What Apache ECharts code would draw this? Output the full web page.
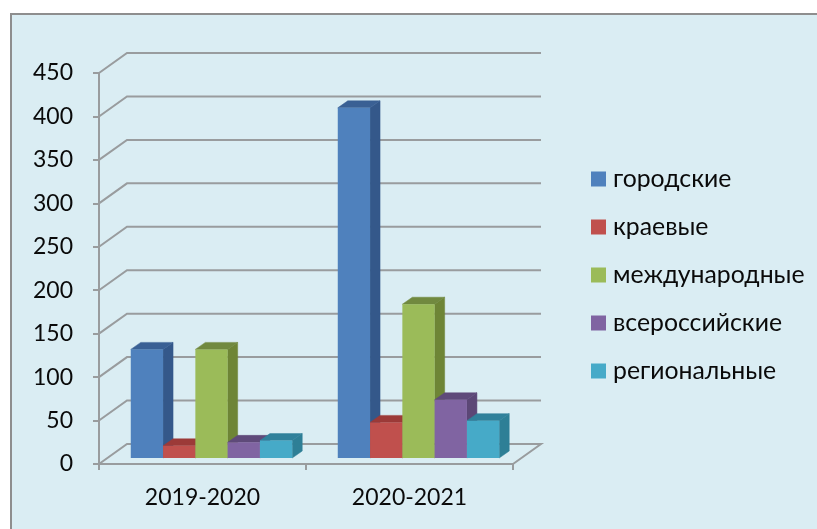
<!DOCTYPE html>
<html><head><meta charset="utf-8">
<script src="https://cdn.jsdelivr.net/npm/echarts@6/dist/echarts.min.js"></script>
<style>html,body{margin:0;padding:0;background:#fff}#c{width:817px;height:529px}</style>
</head><body><div id="c"></div>
<script>
const categories = ['2019-2020', '2020-2021'];
const gridTicks = [0, 50, 100, 150, 200, 250, 300, 350, 400, 450];
const gorodskie = [125, 403];
const kraevye = [14, 41];
const mezhdunarodnye = [125, 177];
const vserossiyskie = [18, 67];
const regionalnye = [20, 43];

const names = ['городские', 'краевые', 'международные', 'всероссийские', 'региональные'];
const values = [gorodskie, kraevye, mezhdunarodnye, vserossiyskie, regionalnye];
const faces = [
  ['#4f81bd', '#34588a', '#3a6094'],
  ['#c0504d', '#8e3b39', '#9c3a38'],
  ['#9bbb59', '#6e8536', '#71893f'],
  ['#8064a2', '#5c4776', '#5f4a7a'],
  ['#46aac8', '#2e7f96', '#30819b']
];
const FONT = 'Lato, "Open Sans", sans-serif';
const WALL = '#999c9e';
const wallDX = 28, wallDY = 20;     // floor depth
const barDX = 10, barDY = 7;        // bar depth
const floorDX = 9, floorDY = 6;     // bar row position on the floor
const barShare = 0.156;             // one bar's width / category band

function poly(points, fill) {
  return { type: 'polygon', shape: { points }, style: { fill, stroke: fill, lineWidth: 0.5 } };
}
function barRenderer(si) {
  return function (params, api) {
    const cat = api.value(0), v = api.value(1);
    const band = api.size([1, 0])[0];
    const w = band * barShare;
    const top = api.coord([cat, v]);
    const base = api.coord([cat, 0]);
    const x0 = top[0] + floorDX + (si - 2.5) * w, x1 = x0 + w;
    const yT = top[1] - floorDY, yB = base[1] - floorDY;
    const f = faces[si];
    return { type: 'group', children: [
      poly([[x1, yT], [x1 + barDX, yT - barDY], [x1 + barDX, yB - barDY], [x1, yB]], f[1]),
      poly([[x0, yT], [x0 + barDX, yT - barDY], [x1 + barDX, yT - barDY], [x1, yT]], f[2]),
      { type: 'rect', shape: { x: x0, y: yT, width: w, height: yB - yT }, style: { fill: f[0] } }
    ] };
  };
}
function wallRenderer(params, api) {
  const cs = params.coordSys;
  const y = api.coord([0, api.value(0)])[1];
  const l = cs.x, r = cs.x + cs.width;
  const pts = [[l, y], [l + wallDX, y - wallDY], [r + wallDX, y - wallDY]];
  if (api.value(0) === 0) pts.push([r, y]);
  return { type: 'polyline', shape: { points: pts }, style: { fill: null, stroke: WALL, lineWidth: 2 } };
}

const series = [{
  type: 'custom', name: 'wall', coordinateSystem: 'cartesian2d', clip: false, silent: true, z: 1,
  renderItem: wallRenderer, encode: { y: 0 }, data: gridTicks.map(v => [v])
}];
names.forEach((name, si) => series.push({
  type: 'custom', name, coordinateSystem: 'cartesian2d', clip: false, z: 2 + si,
  itemStyle: { color: faces[si][0] },
  renderItem: barRenderer(si), encode: { x: 0, y: 1 },
  data: values[si].map((v, i) => [i, v])
}));

const chart = echarts.init(document.getElementById('c'), null, { renderer: 'canvas' });
chart.setOption({
  animation: false,
  backgroundColor: '#fff',
  graphic: [{ type: 'rect', z: -10, shape: { x: 11, y: 14, width: 820, height: 530 },
    style: { fill: '#daedf3', stroke: '#8e8e8e', lineWidth: 2 } }],
  grid: { left: 99, right: 304, top: 73, bottom: 65, containLabel: false },
  xAxis: { type: 'category', data: categories,
    axisLine: { lineStyle: { color: WALL, width: 2 } },
    axisTick: { show: true, alignWithLabel: false, length: 6, lineStyle: { color: WALL, width: 2 } },
    axisLabel: { color: '#0a0a0a', fontFamily: FONT, fontSize: 23, margin: 22, interval: 0 },
    splitLine: { show: false } },
  yAxis: { type: 'value', min: 0, max: 450, interval: 50,
    axisLine: { show: true, lineStyle: { color: WALL, width: 2 } },
    axisTick: { show: true, length: 6, lineStyle: { color: WALL, width: 2 } },
    axisLabel: { color: '#0a0a0a', fontFamily: FONT, fontSize: 23, margin: 26, verticalAlign: 'middle', lineHeight: 30, padding: [5, 0, 0, 0] },
    splitLine: { show: false } },
  legend: { orient: 'vertical', left: 586, top: 161, itemWidth: 15, itemHeight: 15, itemGap: 22, icon: 'rect',
    data: names, selectedMode: false,
    textStyle: { color: '#0a0a0a', fontFamily: FONT, fontSize: 24.8, lineHeight: 26, padding: [0, 0, 0, 2] } },
  series
});
</script></body></html>
